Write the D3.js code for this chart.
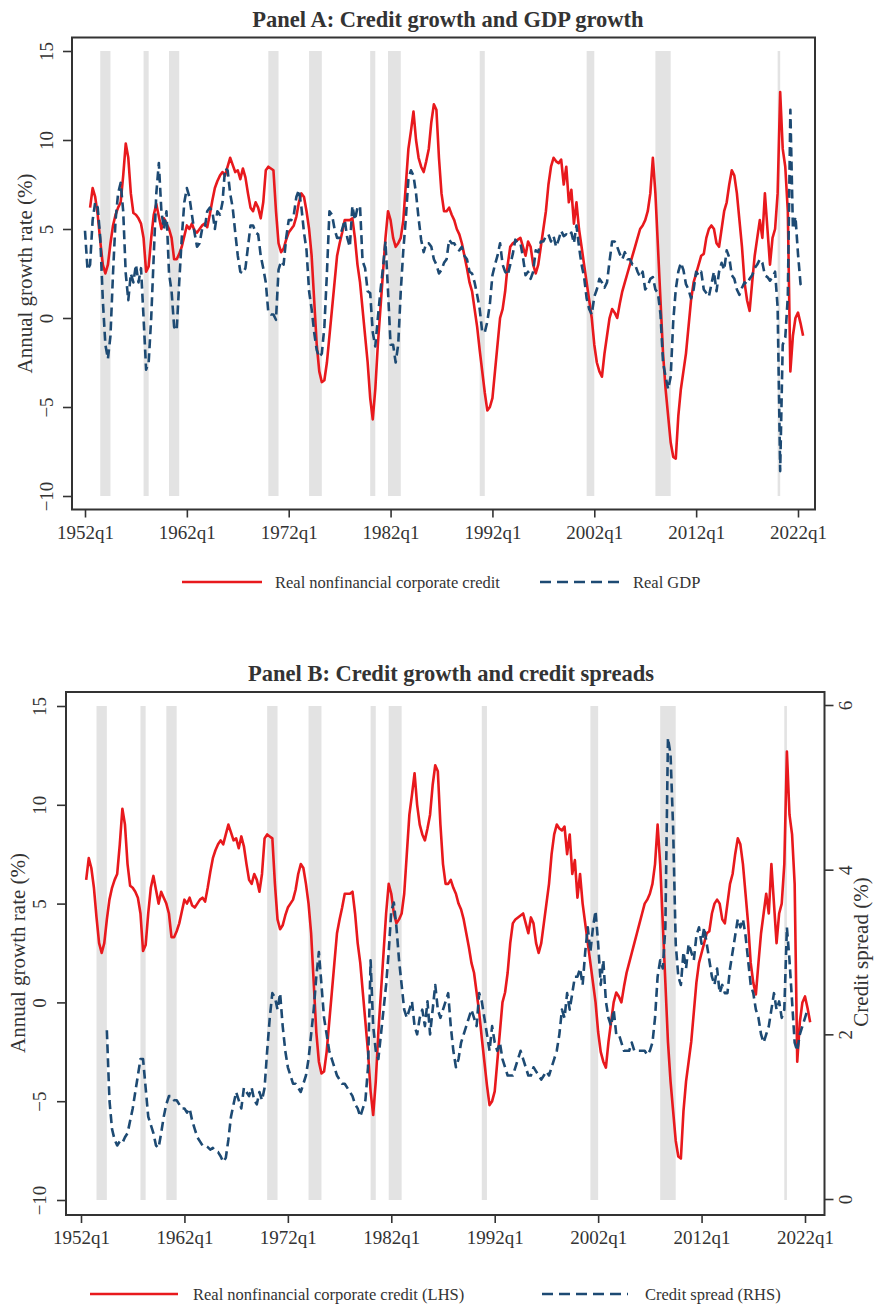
<!DOCTYPE html>
<html><head><meta charset="utf-8">
<script src="https://cdn.jsdelivr.net/npm/d3@7/dist/d3.min.js"></script>
<style>
html,body{margin:0;padding:0;background:#fff;}
svg text{font-family:"Liberation Serif","Times New Roman",serif;fill:#333;}
</style></head>
<body><svg id="chart" width="891" height="1305"></svg>
<script>
// ---------------- DATA ----------------
const xTickLabels = ["1952q1","1962q1","1972q1","1982q1","1992q1","2002q1","2012q1","2022q1"];
const yTicksLeft = [15,10,5,0,-5,-10];
const yTicksRight = [6,4,2,0];

// NBER recession shading (start quarter, end quarter)
const recessions = [["1953q3","1954q3"],["1957q4","1958q2"],["1960q2","1961q2"],["1970q1","1971q1"],
  ["1974q1","1975q2"],["1980q1","1980q3"],["1981q4","1983q1"],["1990q4","1991q2"],
  ["2001q2","2002q1"],["2008q1","2009q3"],["2020q1","2020q2"]];

// Real nonfinancial corporate credit, annual growth (%), quarterly from 1952q3
const creditStart = "1952q3";
const creditGrowth = [
  6.2, 7.3,
  6.8, 5.8, 4.3, 3.0,
  2.5, 3.0, 4.2, 5.2,
  5.8, 6.2, 6.5, 8.0,
  9.8, 9.0, 7.0, 5.9,
  5.8, 5.6, 5.3, 4.5,
  2.6, 2.9, 4.5, 5.8,
  6.4, 5.7, 5.0, 5.6,
  5.3, 5.0, 4.5, 3.3,
  3.3, 3.6, 4.0, 4.6,
  5.2, 5.0, 5.3, 4.9,
  4.8, 5.0, 5.2, 5.3,
  5.1, 5.8, 6.6, 7.3,
  7.7, 8.0, 8.2, 8.0,
  8.5, 9.0, 8.6, 8.2,
  8.3, 7.8, 8.4, 7.9,
  7.0, 6.2, 6.0, 6.5,
  6.2, 5.6, 6.5, 8.3,
  8.5, 8.4, 8.3, 6.0,
  4.2, 3.7, 3.9, 4.4,
  4.8, 5.0, 5.2, 5.7,
  6.5, 7.0, 6.8, 6.0,
  5.0, 3.5, 1.0, -1.5,
  -3.0, -3.6, -3.5, -2.5,
  -1.0, 0.5, 2.0, 3.5,
  4.2, 4.8, 5.5, 5.5,
  5.5, 5.6, 4.5, 3.0,
  2.0, 0.5, -1.0, -2.5,
  -4.5, -5.7, -4.0, -1.5,
  0.5, 2.5, 4.5, 6.0,
  5.5, 4.5, 4.0, 4.2,
  4.5, 5.5, 7.5, 9.5,
  10.5, 11.6, 10.0, 9.0,
  8.5, 8.2, 8.8, 9.5,
  11.0, 12.0, 11.7, 9.0,
  7.0, 6.0, 6.0, 6.2,
  5.8, 5.5, 5.0, 4.7,
  4.2, 3.5, 2.8, 2.0,
  1.5, 0.5, -0.5, -1.8,
  -3.0, -4.2, -5.2, -5.0,
  -4.5, -3.0, -1.5, 0.0,
  0.5, 1.5, 3.0, 4.0,
  4.2, 4.3, 4.4, 4.5,
  4.0, 3.5, 4.3, 4.0,
  3.0, 2.5, 3.0, 4.0,
  5.0, 6.0, 7.5, 8.5,
  9.0, 8.8, 8.7, 8.9,
  7.5, 8.5, 6.5, 7.2,
  5.3, 6.5, 5.0, 4.0,
  3.0, 2.0, 1.0, 0.0,
  -1.5, -2.5, -3.0, -3.3,
  -2.0, -1.0, 0.0, 0.5,
  0.3, 0.0, 0.8, 1.5,
  2.0, 2.5, 3.0, 3.5,
  4.0, 4.5, 5.0, 5.2,
  5.5, 6.0, 7.0, 9.0,
  7.0, 4.0, 1.0, -2.0,
  -4.0, -5.5, -7.0, -7.8,
  -7.9, -5.5, -4.0, -3.0,
  -2.0, -0.5, 1.0, 2.0,
  2.5, 3.0, 3.5, 3.6,
  4.5, 5.0, 5.2, 5.0,
  4.2, 4.0, 5.0, 6.0,
  6.5, 7.5, 8.3, 8.0,
  7.0, 5.5, 4.0, 2.0,
  1.0, 0.4, 2.0, 3.5,
  4.5, 5.5, 4.5, 7.0,
  5.0, 3.0, 4.5, 5.0,
  7.0, 12.7, 9.5, 8.5,
  6.0, -3.0, -1.0, 0.0,
  0.3, -0.3, -1.0
];

// Real GDP, annual growth (%), quarterly from 1952q1
const gdpStart = "1952q1";
const gdpGrowth = [
  4.9, 2.7, 3.0, 5.5,
  6.5, 6.2, 4.5, 1.0,
  -1.5, -2.3, -1.0, 2.5,
  5.5, 7.0, 7.6, 6.0,
  2.5, 1.0, 2.5, 2.0,
  3.0, 2.0, 2.8, 0.0,
  -2.9, -2.5, 0.0, 3.5,
  7.0, 8.7, 6.0, 5.0,
  6.0, 2.5, 1.5, -0.5,
  -0.7, 2.0, 4.5, 6.5,
  7.3, 6.8, 5.8, 4.8,
  4.0, 4.2, 5.0, 5.0,
  6.0, 6.2, 6.0, 5.0,
  6.0, 5.8, 6.5, 8.4,
  8.3, 7.0, 6.2, 4.8,
  3.5, 2.6, 2.5, 2.8,
  4.0, 5.2, 5.2, 4.8,
  4.7, 3.5, 2.8, 2.0,
  0.3, 0.2, 0.2, -0.1,
  2.7, 3.2, 3.0, 4.5,
  5.5, 5.5, 5.8, 6.8,
  7.2, 6.2, 4.8, 3.8,
  1.5, 0.5, -0.8, -1.8,
  -2.2, -2.0, -0.5, 2.5,
  6.0, 5.8, 5.0, 4.5,
  4.5, 5.0, 5.5, 4.5,
  4.0, 6.3, 5.5, 6.2,
  6.3, 3.2, 2.8, 1.5,
  1.4, -0.8, -1.6, 0.0,
  1.5, 2.8, 4.3, 1.5,
  -1.5, -1.5, -2.5, -1.5,
  1.5, 3.8, 5.6, 7.8,
  8.3, 8.0, 7.0, 5.6,
  4.4, 3.7, 4.2, 4.2,
  4.0, 3.3, 3.0, 2.5,
  2.7, 3.1, 3.3, 4.4,
  4.2, 4.2, 3.9, 3.8,
  4.0, 3.5, 3.3, 2.6,
  2.5, 2.0, 1.3, 0.5,
  -0.8, -0.8, -0.2, 0.8,
  2.4, 3.0, 3.5, 4.2,
  3.0, 2.6, 2.4, 3.0,
  3.6, 4.4, 4.2, 4.2,
  3.4, 2.4, 2.6, 2.2,
  2.6, 3.8, 3.7, 4.3,
  4.3, 4.6, 4.7, 4.3,
  4.6, 4.0, 4.4, 4.9,
  4.6, 4.7, 4.6, 4.8,
  4.2, 5.2, 4.0, 3.0,
  2.3, 1.1, 0.5, 0.2,
  1.2, 1.6, 2.2, 2.0,
  1.7, 2.0, 3.2, 4.3,
  4.3, 4.0, 3.6, 3.3,
  3.7, 3.3, 3.3, 3.0,
  3.0, 2.6, 2.3, 2.6,
  1.6, 1.8, 2.2, 2.3,
  1.6, 1.4, 0.2, -2.5,
  -3.3, -4.0, -3.3, -0.2,
  1.6, 2.6, 3.1, 2.7,
  1.9, 1.6, 1.1, 1.6,
  2.6, 2.4, 2.6, 1.6,
  1.4, 1.2, 1.9, 2.6,
  1.5, 2.6, 3.1, 2.7,
  3.8, 3.4, 2.4, 2.2,
  1.6, 1.3, 1.7, 2.0,
  1.9, 2.2, 2.4, 2.8,
  3.0, 3.3, 3.1, 2.4,
  2.3, 2.1, 2.3, 2.6,
  0.6, -8.6, -1.5, -1.1,
  1.2, 11.7, 5.0, 5.7,
  3.6, 1.9, 1.7
];

// Credit spread (%), quarterly from 1954q3
const spreadStart = "1954q3";
const creditSpread = [
  2.05, 1.2,
  0.85, 0.72, 0.65, 0.7,
  0.68, 0.75, 0.8, 0.95,
  1.1, 1.3, 1.5, 1.7,
  1.7, 1.35, 1.0, 0.9,
  0.8, 0.65, 0.62, 0.8,
  1.0, 1.15, 1.25, 1.25,
  1.2, 1.2, 1.15, 1.1,
  1.1, 1.05, 1.1, 0.95,
  0.85, 0.75, 0.7, 0.65,
  0.65, 0.63, 0.6, 0.62,
  0.58, 0.57, 0.52, 0.45,
  0.5, 0.72, 1.0, 1.15,
  1.3, 1.2, 1.1, 1.35,
  1.3, 1.25, 1.35, 1.2,
  1.15, 1.3, 1.2, 1.35,
  1.8, 2.2, 2.5, 2.45,
  2.3, 2.5, 2.1, 1.8,
  1.6, 1.5, 1.4, 1.4,
  1.35, 1.3, 1.4, 1.5,
  1.7, 2.0, 2.3, 2.7,
  3.0, 2.6, 2.2, 2.0,
  1.8, 1.7, 1.6, 1.5,
  1.45, 1.4, 1.4, 1.35,
  1.3, 1.25, 1.15, 1.1,
  1.0, 1.1, 1.2, 1.6,
  2.9, 2.1, 1.8, 1.7,
  2.0, 2.3, 2.6, 3.0,
  3.5, 3.6, 3.3, 2.9,
  2.6, 2.3, 2.2, 2.3,
  2.4, 2.1, 2.0, 2.2,
  2.3, 2.1, 2.4, 2.0,
  2.3, 2.6, 2.3, 2.2,
  2.3, 2.4, 2.5, 2.1,
  1.8, 1.6, 1.7, 1.9,
  2.0, 2.1, 2.2, 2.3,
  2.2, 2.1, 2.5, 2.4,
  2.2, 2.0, 1.8, 2.1,
  1.9, 1.8, 1.9, 1.7,
  1.6, 1.5, 1.5, 1.5,
  1.6, 1.7, 1.8, 1.7,
  1.6, 1.5, 1.5, 1.6,
  1.55, 1.5, 1.45, 1.5,
  1.55, 1.5, 1.6, 1.7,
  1.8, 2.0, 2.3, 2.2,
  2.5, 2.3, 2.5, 2.7,
  2.7, 2.8, 2.6, 3.0,
  3.3, 3.0, 3.3, 3.5,
  3.1, 2.6, 2.9, 2.4,
  2.2, 2.1, 2.3, 2.0,
  2.0, 1.9, 1.8, 1.8,
  1.8, 1.9, 1.8, 1.8,
  1.8, 1.8, 1.8, 1.75,
  1.8, 1.9, 2.2, 2.7,
  2.9, 2.8, 3.3, 5.6,
  5.4, 4.5, 3.1, 2.7,
  2.6, 3.0, 2.8, 3.1,
  3.0, 2.9, 3.2, 3.3,
  3.1, 3.3, 3.1, 2.9,
  2.7, 2.6, 2.8, 2.5,
  2.6, 2.5, 2.5, 2.8,
  3.0, 3.2, 3.4, 3.3,
  3.4, 3.2, 2.9, 2.6,
  2.5, 2.3, 2.2, 2.0,
  1.9, 2.0, 2.1, 2.3,
  2.5, 2.3, 2.4, 2.2,
  2.3, 3.3, 2.9, 2.4,
  1.9, 1.8, 2.0, 2.1,
  2.2, 2.3
];

// ---------------- HELPERS ----------------
const qToYear = s => { const m = /^(\d{4})q(\d)$/.exec(s); return +m[1] + (+m[2]-1)/4; };
const toSeries = (start, vals) => { const y0 = qToYear(start); return vals.map((v,i)=>({t:y0+i/4, v})); };

const RED = "#e8191d", BLUE = "#1d4a73", BAND = "#e3e3e3", FRAME = "#333";
const svg = d3.select("#chart");

function drawPanel(cfg){
  const g = svg.append("g");
  const x = d3.scaleLinear().domain([1952,2022]).range(cfg.xr);
  const y = d3.scaleLinear().domain([-10,15]).range(cfg.yr);
  // recession bands
  g.append("g").selectAll("rect").data(recessions).join("rect")
    .attr("x", d=>x(qToYear(d[0]))).attr("width", d=>Math.max(2, x(qToYear(d[1]))-x(qToYear(d[0]))))
    .attr("y", y(15)).attr("height", y(-10)-y(15)).attr("fill", BAND);
  // lines
  const line = sc => d3.line().x(d=>x(d.t)).y(d=>sc(d.v));
  g.append("path").datum(toSeries(creditStart, creditGrowth))
    .attr("d", line(y)).attr("fill","none").attr("stroke",RED).attr("stroke-width",2.6).attr("stroke-linejoin","round");
  const ySec = cfg.ySec;
  g.append("path").datum(cfg.second)
    .attr("d", line(ySec || y)).attr("fill","none").attr("stroke",BLUE).attr("stroke-width",2.6)
    .attr("stroke-dasharray","9,5").attr("stroke-linejoin","round");
  // frame
  const f = cfg.frame;
  g.append("rect").attr("x",f.l).attr("y",f.t).attr("width",f.r-f.l).attr("height",f.b-f.t)
    .attr("fill","none").attr("stroke",FRAME).attr("stroke-width",2);
  // x axis
  const xa = g.append("g").attr("transform",`translate(0,${f.b})`)
    .call(d3.axisBottom(x).tickValues(xTickLabels.map(qToYear)).tickFormat((d,i)=>xTickLabels[i]).tickSize(8).tickPadding(8));
  xa.select(".domain").remove();
  xa.selectAll("line").attr("stroke",FRAME).attr("stroke-width",1.6);
  xa.selectAll("text").attr("font-size",19).attr("fill","#333").attr("font-family","Liberation Serif");
  // left y axis
  const ya = g.append("g").attr("transform",`translate(${f.l},0)`)
    .call(d3.axisLeft(y).tickValues(yTicksLeft).tickSize(9).tickFormat(d3.format("d")));
  ya.select(".domain").remove();
  ya.selectAll("line").attr("stroke",FRAME).attr("stroke-width",1.6);
  ya.selectAll("text").attr("font-size",19).attr("fill","#333").attr("font-family","Liberation Serif")
    .attr("x",null).attr("dy",null).attr("text-anchor","middle")
    .attr("transform", `translate(${cfg.ylabX - f.l},0) rotate(-90)`).attr("dominant-baseline","central");
  g.append("text").attr("transform",`translate(${cfg.ytitleX},${(y(15)+y(-10))/2}) rotate(-90)`)
    .attr("text-anchor","middle").attr("dominant-baseline","central").attr("font-size",21)
    .text("Annual growth rate (%)");
  // right axis
  if (ySec){
    const ra = g.append("g").attr("transform",`translate(${f.r},0)`)
      .call(d3.axisRight(ySec).tickValues(yTicksRight).tickSize(9).tickFormat(d3.format("d")));
    ra.select(".domain").remove();
    ra.selectAll("line").attr("stroke",FRAME).attr("stroke-width",1.6);
    ra.selectAll("text").attr("font-size",19).attr("fill","#333").attr("font-family","Liberation Serif")
      .attr("x",null).attr("dy",null).attr("text-anchor","middle")
      .attr("transform", `translate(${cfg.rlabX - f.r},0) rotate(-90)`).attr("dominant-baseline","central");
    g.append("text").attr("transform",`translate(${cfg.rtitleX},${(ySec(6)+ySec(0))/2}) rotate(-90)`)
      .attr("text-anchor","middle").attr("dominant-baseline","central").attr("font-size",21)
      .text("Credit spread (%)");
  }
  // title
  g.append("text").attr("x",cfg.titleX).attr("y",cfg.titleY).attr("text-anchor","middle")
    .attr("dominant-baseline","central").attr("font-size",22.5).attr("font-weight","bold").attr("fill","#222")
    .text(cfg.title);
  // legend
  const L = cfg.legend;
  g.append("line").attr("x1",L.r1).attr("x2",L.r2).attr("y1",L.y).attr("y2",L.y).attr("stroke",RED).attr("stroke-width",2.6);
  g.append("text").attr("x",L.rt).attr("y",L.y).attr("dominant-baseline","central").attr("font-size",16.5).text(L.rlabel);
  g.append("line").attr("x1",L.b1).attr("x2",L.b2).attr("y1",L.y).attr("y2",L.y).attr("stroke",BLUE).attr("stroke-width",2.6).attr("stroke-dasharray","11,6");
  g.append("text").attr("x",L.bt).attr("y",L.y).attr("dominant-baseline","central").attr("font-size",16.5).text(L.blabel);
}

// Panel A
drawPanel({
  title:"Panel A: Credit growth and GDP growth", titleX:448, titleY:19,
  xr:[85,798], yr:[496,51], frame:{l:72,t:37.5,r:815,b:509.5},
  ylabX:46, ytitleX:25,
  second: toSeries(gdpStart, gdpGrowth),
  legend:{y:582, r1:182, r2:262, rt:275, rlabel:"Real nonfinancial corporate credit",
          b1:540, b2:620, bt:633, blabel:"Real GDP"}
});

// Panel B
drawPanel({
  title:"Panel B: Credit growth and credit spreads", titleX:451, titleY:673,
  xr:[81,805], yr:[1200,706], frame:{l:66,t:692,r:824.5,b:1215},
  ylabX:39, ytitleX:18,
  ySec: d3.scaleLinear().domain([0,6]).range([1199,705]), rlabX:845, rtitleX:861,
  second: toSeries(spreadStart, creditSpread),
  legend:{y:1294, r1:90, r2:178, rt:193, rlabel:"Real nonfinancial corporate credit (LHS)",
          b1:542, b2:628, bt:645, blabel:"Credit spread (RHS)"}
});
</script></body></html>
